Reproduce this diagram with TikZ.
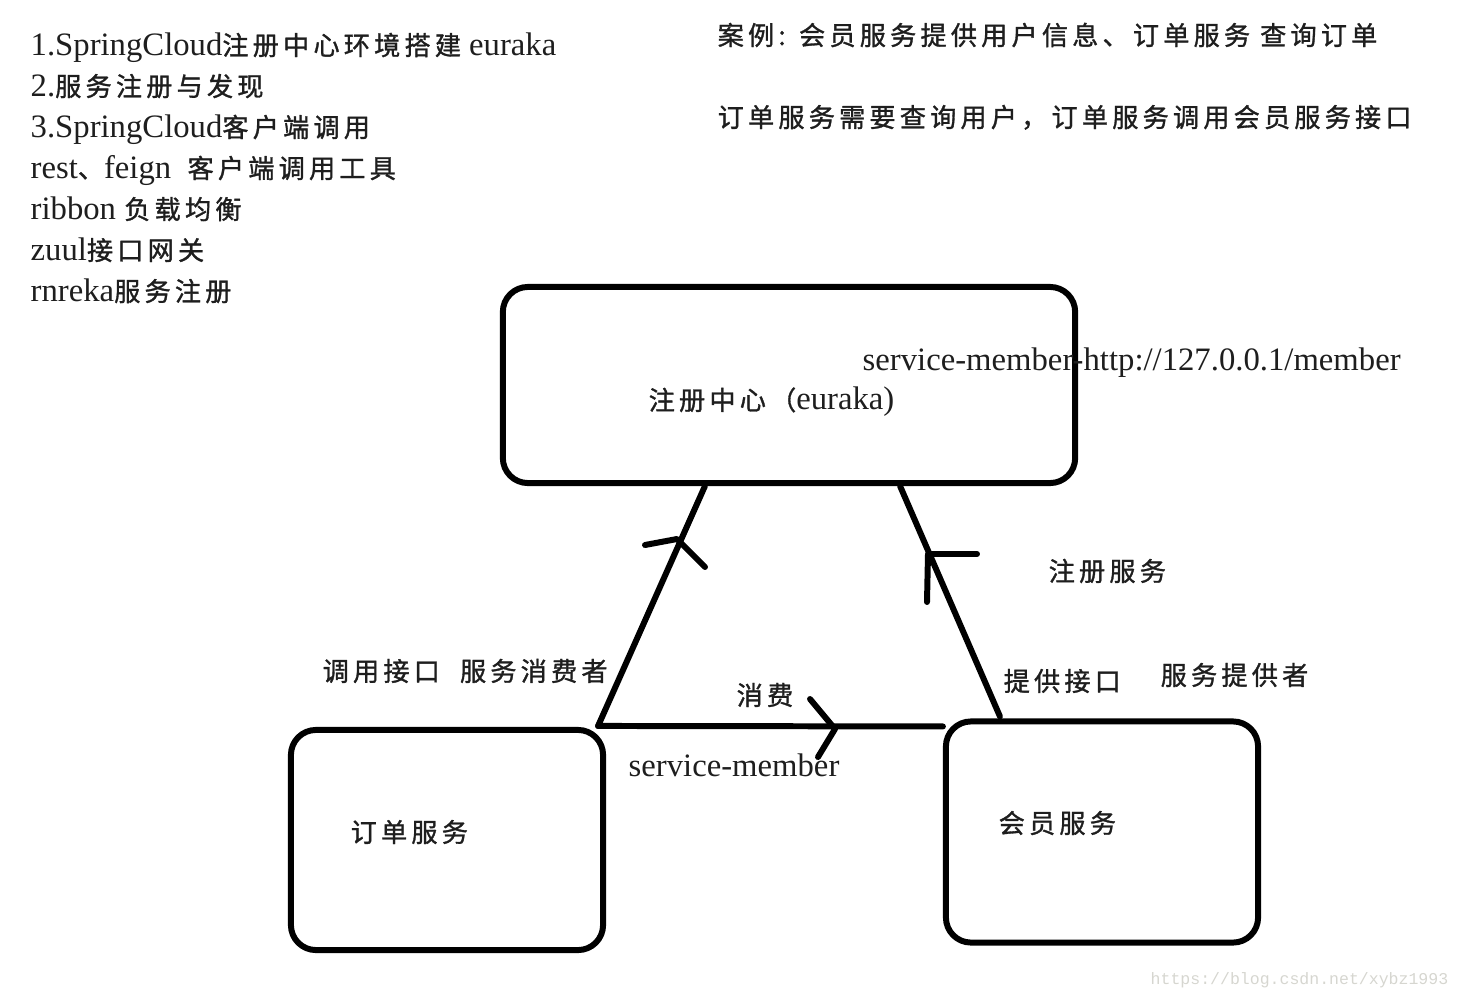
\documentclass[tikz,border=0pt]{standalone}
\usepackage{fontspec}
\setmainfont{Liberation Serif}
\newfontfamily\cjk[Scale=0.80, LetterSpace=16, FakeBold=1.2]{Noto Sans CJK SC}
\newfontfamily\markfont{Liberation Mono}
\usepackage{tikz}
\usetikzlibrary{calc}
\definecolor{inkBlack}{HTML}{1E1E1E}
\definecolor{markGray}{HTML}{D6D6D0}
\newcommand{\zh}[1]{{\cjk #1}}

\begin{document}
\begin{tikzpicture}[x=0.01cm, y=-0.01cm, style={line cap = round, line join = round},
  txt/.style={inner sep=0pt, text=inkBlack, font=\fontsize{9.3}{11}\selectfont},
  svcbox/.style={draw=black, line width=1.7pt, rounded corners=0.25cm, inner sep=0pt},
  pen/.style={black, line width=1.7pt}]
  \useasboundingbox (0,0) rectangle (1460,1000);

  % notes, left column
  \node[txt, anchor=base west] (n1) at (30,55) {1.SpringCloud\zh{注册中心环境搭建} euraka};
  \node[txt, anchor=base west] (n2) at (30,96) {2.\zh{服务注册与发现}};
  \node[txt, anchor=base west] (n3) at (30,137) {3.SpringCloud\zh{客户端调用}};
  \node[txt, anchor=base west] (n4) at (30,178) {rest\zh{、}feign\ \ \zh{客户端调用工具}};
  \node[txt, anchor=base west] (n5) at (30,219) {ribbon \zh{负载均衡}};
  \node[txt, anchor=base west] (n6) at (30,260) {zuul\zh{接口网关}};
  \node[txt, anchor=base west] (n7) at (30,301) {rnreka\zh{服务注册}};

  % case description
  \node[txt, anchor=base west] (case1) at (717,45) {\zh{案例: 会员服务提供用户信息、订单服务 查询订单}};
  \node[txt, anchor=base west] (case2) at (717,127) {\zh{订单服务需要查询用户，订单服务调用会员服务接口}};

  % services
  \node[svcbox, minimum width=5.72cm, minimum height=1.96cm] (reg) at (789,385) {};
  \node[svcbox, minimum width=3.12cm, minimum height=2.20cm] (order) at (447,840) {};
  \node[svcbox, minimum width=3.12cm, minimum height=2.21cm] (member) at (1102,832) {};

  \node[txt, anchor=west] (regLabel) at (648,402) {\zh{注册中心（}euraka)};
  \node[txt, anchor=west] (regUrl) at (862,363) {service-member-http://127.0.0.1/member};
  \node[txt, anchor=west] (orderLabel) at (350,832) {\zh{订单服务}};
  \node[txt, anchor=west] (memberLabel) at (998,823) {\zh{会员服务}};

  % connectors
  \coordinate (consumer) at ([xshift=-0.08cm, yshift=0.01cm]order.north east);
  \coordinate (provider) at ([xshift=0.57cm, yshift=0.02cm]member.north west);
  \draw[pen] (consumer) -- ([xshift=-0.84cm]reg.south);
  \draw[pen] (provider) -- ([xshift=1.11cm]reg.south);
  \draw[pen] (consumer) -- ([yshift=-0.08cm]member.north west);

  % hand drawn heads
  \draw[pen] (645,545) -- (677,539) -- (705,567);
  \draw[pen] (927,602) -- (928,554) -- (977,554);
  \draw[pen] (810,699) -- (835,729) -- (818,757);

  \node[txt, anchor=west] (regSvc) at (1048,571) {\zh{注册服务}};
  \node[txt, anchor=west] (callApi) at (322,671) {\zh{调用接口\ \ 服务消费者}};
  \node[txt, anchor=west] (consume) at (736,695) {\zh{消费}};
  \node[txt, anchor=west] (svcName) at (628,765) {service-member};
  \node[txt, anchor=west] (offerApi) at (1003,681) {\zh{提供接口}};
  \node[txt, anchor=west] (provName) at (1160,675) {\zh{服务提供者}};

  \node[inner sep=0pt, anchor=west, text=markGray, font=\markfont\fontsize{4.7}{6}\selectfont] (wm) at (1150,980) {https://blog.csdn.net/xybz1993};
\end{tikzpicture}
\end{document}
